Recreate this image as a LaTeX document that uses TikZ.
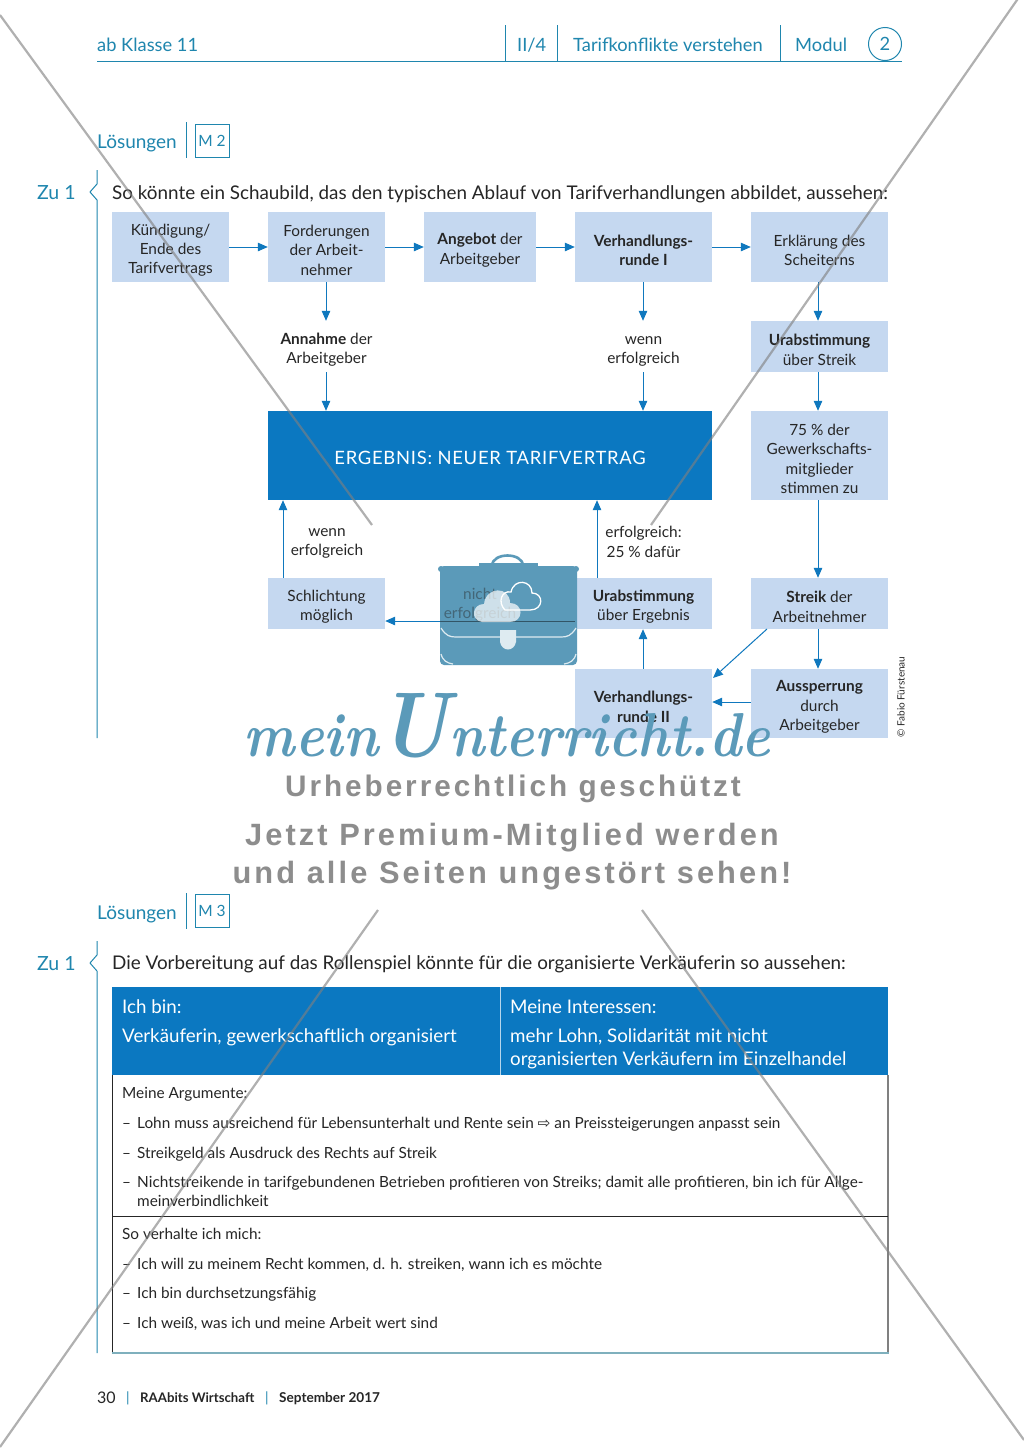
\documentclass[tikz,border=0pt]{standalone}
\usepackage{fontspec}
\setsansfont{Lato}
\newfontfamily\symf{DejaVu Sans}
\newfontfamily\wmf[LetterSpace=10]{Liberation Sans}
\usetikzlibrary{arrows.meta}
\definecolor{teal1}{HTML}{1F86AE}
\definecolor{boxblue}{HTML}{C5D8F0}
\definecolor{deepblue}{HTML}{0B78C1}
\definecolor{arrowblue}{HTML}{0F78BE}
\definecolor{inkc}{HTML}{262626}
\definecolor{wmblue}{HTML}{5B9AB9}
\definecolor{wmgrey}{HTML}{8D8D8D}
\definecolor{botrule}{HTML}{7FB0BD}
\definecolor{greyrule}{HTML}{808080}
\newcommand{\tp}{\rule{0pt}{18pt}}
\tikzset{
  every node/.style={font=\sffamily, text=inkc, inner sep=0pt},
  tbox/.style={fill=boxblue, minimum height=#1, align=center, font=\sffamily\fontsize{15.4}{19.3}\selectfont},
  lab/.style={align=center, font=\sffamily\fontsize{15.4}{19.3}\selectfont},
  arr/.style={draw=arrowblue, line width=1pt, -{Triangle[length=10pt,width=8.5pt,fill=arrowblue]}},
  head/.style={text=teal1, font=\sffamily\fontsize{18.3}{20}\selectfont, anchor=base west},
  tealrule/.style={draw=teal1, line width=1pt},
  body/.style={anchor=base west, font=\sffamily\fontsize{15.35}{17}\selectfont},
  white1/.style={anchor=base west, text=white, font=\sffamily\fontsize{18.75}{20}\selectfont},
  xline/.style={draw=gray, line width=2.2pt, opacity=.62},
  wmtext/.style={text=wmgrey, font=\wmf\bfseries\fontsize{29.7}{34}\selectfont}
}
\begin{document}
\begin{tikzpicture}[x=1pt,y=-1pt]
\useasboundingbox (0,0) rectangle (1024,1448);
\fill[white] (0,0) rectangle (1024,1448);

% header
\node[head] (hklasse) at (97,51) {ab Klasse 11};
\node[head] (hii) at (517,51) {II/4};
\node[head] (htitle) at (573,51) {Tarifkonflikte verstehen};
\node[head] (hmodul) at (795,51) {Modul};
\node[draw=teal1, line width=1pt, circle, minimum size=33pt, text=teal1, font=\sffamily\fontsize{18.3}{20}\selectfont] (hnum) at (885,44) {2};
\draw[tealrule] (97,61) -- (902,61);
\draw[tealrule] (505,25) -- (505,61);
\draw[tealrule] (557,25) -- (557,61);
\draw[tealrule] (780,25) -- (780,61);

% section M2
\node[head, font=\sffamily\fontsize{19}{20}\selectfont] (los1) at (97,148) {Lösungen};
\draw[tealrule] (186,122) -- (186,158);
\node[draw=teal1, line width=1pt, minimum width=34pt, minimum height=33pt, text=teal1, font=\sffamily\fontsize{15.5}{18}\selectfont] (m2) at (212,140.5) {M 2};
\node[head, font=\sffamily\fontsize{19.5}{20}\selectfont] (zu1a) at (37,199) {Zu 1};
\draw[tealrule, line join=round] (97,170) -- (97,184) -- (90,192) -- (97,200) -- (97,738);
\node[anchor=base west, font=\sffamily\fontsize{18.85}{20}\selectfont] (intro1) at (112,199) {So könnte ein Schaubild, das den typischen Ablauf von Tarifverhandlungen abbildet, aussehen:};

% flow boxes
\node[tbox=70pt, minimum width=117pt] (kuend) at (170.5,247) {\tp Kündigung/\\Ende des\\Tarifvertrags};
\node[tbox=70pt, minimum width=117pt] (ford) at (326.5,247) {\tp Forderungen\\der Arbeit-\\nehmer};
\node[tbox=70pt, minimum width=112pt] (ang) at (480,247) {\tp\textbf{Angebot} der\\Arbeitgeber};
\node[tbox=70pt, minimum width=137pt] (vr1) at (643.5,247) {\tp\textbf{Verhandlungs-}\\\textbf{runde I}};
\node[tbox=70pt, minimum width=137pt] (erkl) at (819.5,247) {\tp Erklärung des\\Scheiterns};
\node[lab, minimum width=117pt, minimum height=51pt] (annahme) at (326.5,346.5) {\tp\textbf{Annahme} der\\Arbeitgeber};
\node[lab, minimum width=137pt, minimum height=51pt] (wenn1) at (643.5,346.5) {\tp wenn\\erfolgreich};
\node[tbox=51pt, minimum width=137pt] (urab1) at (819.5,346.5) {\tp\textbf{Urabstimmung}\\über Streik};
\node[fill=deepblue, minimum width=444pt, minimum height=89pt, text=white, font=\sffamily\fontsize{18.4}{22}\selectfont] (res) at (490,455.5) {\rule{0pt}{19pt}\addfontfeature{LetterSpace=4}ERGEBNIS: NEUER TARIFVERTRAG};
\node[tbox=89pt, minimum width=137pt] (proz) at (819.5,455.5) {\tp 75 \% der\\Gewerkschafts-\\mitglieder\\stimmen zu};
\node[lab] (wenn2) at (327,538.5) {\tp wenn\\erfolgreich};
\node[lab] (erf) at (643.5,538.5) {\tp erfolgreich:\\25 \% dafür};
\node[tbox=51pt, minimum width=117pt] (schl) at (326.5,603.5) {\tp Schlichtung\\möglich};
\node[tbox=51pt, minimum width=137pt] (urab2) at (643.5,603.5) {\tp\textbf{Urabstimmung}\\über Ergebnis};
\node[tbox=51pt, minimum width=137pt] (streik) at (819.5,603.5) {\tp\textbf{Streik} der\\Arbeitnehmer};
\node[tbox=69pt, minimum width=137pt] (vr2) at (643.5,703.5) {\tp\textbf{Verhandlungs-}\\\textbf{runde II}};
\node[tbox=69pt, minimum width=137pt] (auss) at (819.5,703.5) {\tp\textbf{Aussperrung}\\durch\\Arbeitgeber};
\node[rotate=90, font=\sffamily\fontsize{10}{11}\selectfont] (cred) at (901,697) {© Fabio Fürstenau};

% connector helpers
\coordinate (xa) at (283,0);
\coordinate (xb) at (597,0);
\coordinate (xc) at (818,0);
\coordinate (xd) at (326,0);
\coordinate (xe) at (643,0);
\coordinate (xf) at (440,0);
\coordinate (ya) at (0,621);
\coordinate (yb) at (0,702);
\coordinate (sd) at (767,629);
\coordinate (vd) at (713,678);

\draw[arr] (kuend) -- (ford);
\draw[arr] (ford) -- (ang);
\draw[arr] (ang) -- (vr1);
\draw[arr] (vr1) -- (erkl);
\draw[arr] (ford.south -| xd) -- (annahme.north -| xd);
\draw[arr] (annahme.south -| xd) -- (res.north -| xd);
\draw[arr] (vr1.south -| xe) -- (wenn1.north -| xe);
\draw[arr] (wenn1.south -| xe) -- (res.north -| xe);
\draw[arr] (erkl.south -| xc) -- (urab1.north -| xc);
\draw[arr] (urab1.south -| xc) -- (proz.north -| xc);
\draw[arr] (proz.south -| xc) -- (streik.north -| xc);
\draw[arr] (streik.south -| xc) -- (auss.north -| xc);
\draw[arr] (sd) -- (vd);
\draw[arr] (auss.west |- yb) -- (vr2.east |- yb);
\draw[arr] (vr2.north -| xe) -- (urab2.south -| xe);
\draw[arr] (urab2.north -| xb) -- (res.south -| xb);
\draw[arr] (schl.north -| xa) -- (res.south -| xa);
\draw[arr] (urab2.west |- ya) -- (schl.east |- ya);

% briefcase (watermark)
\draw[wmblue, line width=2.6pt] (492,566) .. controls (492,552) and (523,552) .. (523,566);
\fill[wmblue] (479,563) rectangle (538,567);
\fill[wmblue, rounded corners=4pt] (440,566) rectangle (577,665);
\fill[wmblue] (441,569) circle (3pt) (576,569) circle (3pt);
\draw[wmblue!55!black, line width=1pt] (urab2.west |- ya) -- (xf |- ya);
\node[lab, text=inkc!45!wmblue] (nicht) at (480,601.5) {\tp nicht\\erfolgreich};
\draw[white!80!wmblue, line width=1.2pt] (441,628) .. controls (446,636) and (450,637) .. (456,637) -- (500,637);
\draw[white!80!wmblue, line width=1.2pt] (576,628) .. controls (571,636) and (567,637) .. (561,637) -- (516,637);
\draw[white!80!wmblue, line width=1.2pt] (441,654) .. controls (443,661) and (447,663) .. (453,664);
\draw[white!80!wmblue, line width=1.2pt] (576,654) .. controls (574,661) and (570,663) .. (564,664);
\fill[white!80!wmblue] (500,630) -- (516,630) -- (516,642) .. controls (514,652) and (502,652) .. (500,642) -- cycle;
\draw[white, line width=1.3pt] (505,610) .. controls (497,602) and (502,590) .. (511,592) .. controls (514,578) and (532,580) .. (532,593) .. controls (544,593) and (544,610) .. (530,610) -- cycle;
\fill[white, opacity=.7] (482,622) .. controls (470,620) and (472,604) .. (484,604) .. controls (486,586) and (510,586) .. (510,603) .. controls (524,603) and (524,622) .. (510,622) -- cycle;

% second section
\node[head, font=\sffamily\fontsize{19}{20}\selectfont] (los2) at (97,919) {Lösungen};
\draw[tealrule] (186,893) -- (186,929);
\node[draw=teal1, line width=1pt, minimum width=34pt, minimum height=33pt, text=teal1, font=\sffamily\fontsize{15.5}{18}\selectfont] (m3) at (212,910.5) {M 3};
\node[head, font=\sffamily\fontsize{19.5}{20}\selectfont] (zu1b) at (37,970) {Zu 1};
\draw[tealrule, line join=round] (97,941) -- (97,955) -- (90,963) -- (97,971) -- (97,1353);
\node[anchor=base west, font=\sffamily\fontsize{18.85}{20}\selectfont] (intro2) at (112,969) {Die Vorbereitung auf das Rollenspiel könnte für die organisierte Verkäuferin so aussehen:};

% table
\fill[deepblue] (112,987) rectangle (888,1075);
\draw[white!70!deepblue, line width=1pt] (500,987) -- (500,1075);
\draw[inkc, line width=1pt] (112.5,1075) -- (112.5,1353);
\draw[greyrule, line width=1.2pt] (888,1075) -- (888,1353);
\draw[botrule, line width=1.6pt] (112,1353) -- (888.6,1353);
\draw[inkc, line width=1pt] (112,1216) -- (888,1216);
\node[white1] (t1) at (122,1013) {Ich bin:};
\node[white1] (t2) at (122,1042) {Verkäuferin, gewerkschaftlich organisiert};
\node[white1] (t3) at (510,1013) {Meine Interessen:};
\node[white1] (t4) at (510,1042) {mehr Lohn, Solidarität mit nicht};
\node[white1] (t5) at (510,1065) {organisierten Verkäufern im Einzelhandel};
\node[body] (b0) at (122,1098) {Meine Argumente:};
\node[body] (d1) at (122,1128) {–};
\node[body] (b1) at (137,1128) {Lohn muss ausreichend für Lebensunterhalt und Rente sein {\symf ⇨} an Preissteigerungen anpasst sein};
\node[body] (d2) at (122,1158) {–};
\node[body] (b2) at (137,1158) {Streikgeld als Ausdruck des Rechts auf Streik};
\node[body] (d3) at (122,1187) {–};
\node[body] (b3) at (137,1187) {Nichtstreikende in tarifgebundenen Betrieben profitieren von Streiks; damit alle profitieren, bin ich für Allge-};
\node[body] (b3b) at (137,1206) {meinverbindlichkeit};
\node[body] (b4) at (122,1239) {So verhalte ich mich:};
\node[body] (d5) at (122,1269) {–};
\node[body] (b5) at (137,1269) {Ich will zu meinem Recht kommen, d. h. streiken, wann ich es möchte};
\node[body] (d6) at (122,1298) {–};
\node[body] (b6) at (137,1298) {Ich bin durchsetzungsfähig};
\node[body] (d7) at (122,1328) {–};
\node[body] (b7) at (137,1328) {Ich weiß, was ich und meine Arbeit wert sind};

% footer
\node[anchor=base west, font=\sffamily\fontsize{16}{18}\selectfont] (f1) at (97,1403) {30};
\node[anchor=base west, text=teal1, font=\sffamily\fontsize{14}{18}\selectfont] (f2) at (126,1402) {|};
\node[anchor=base west, font=\sffamily\bfseries\fontsize{13.2}{18}\selectfont] (f3) at (140,1402) {RAAbits Wirtschaft};
\node[anchor=base west, text=teal1, font=\sffamily\fontsize{14}{18}\selectfont] (f4) at (265,1402) {|};
\node[anchor=base west, font=\sffamily\bfseries\fontsize{13.6}{18}\selectfont] (f5) at (279,1402) {September 2017};

% watermark
\draw[xline] (0,15) -- (372,525);
\draw[xline] (1024,-10) -- (651,525);
\draw[xline] (378,910) -- (0,1447);
\draw[xline] (642,910) -- (1024,1440);
\node[xscale=.875, text=wmblue, font=\rmfamily\bfseries\itshape\fontsize{62}{70}\selectfont] (wm0) at (507,726) {mein{\fontsize{92}{92}\selectfont U}nterricht.de};
\node[wmtext] (wm1) at (513,789) {Urheberrechtlich geschützt};
\node[wmtext, font=\wmf\bfseries\fontsize{30.8}{34}\selectfont] (wm2) at (512,838) {Jetzt Premium-Mitglied werden};
\node[wmtext, font=\wmf\bfseries\fontsize{30.8}{34}\selectfont] (wm3) at (512,876) {und alle Seiten ungestört sehen!};
\end{tikzpicture}
\end{document}
